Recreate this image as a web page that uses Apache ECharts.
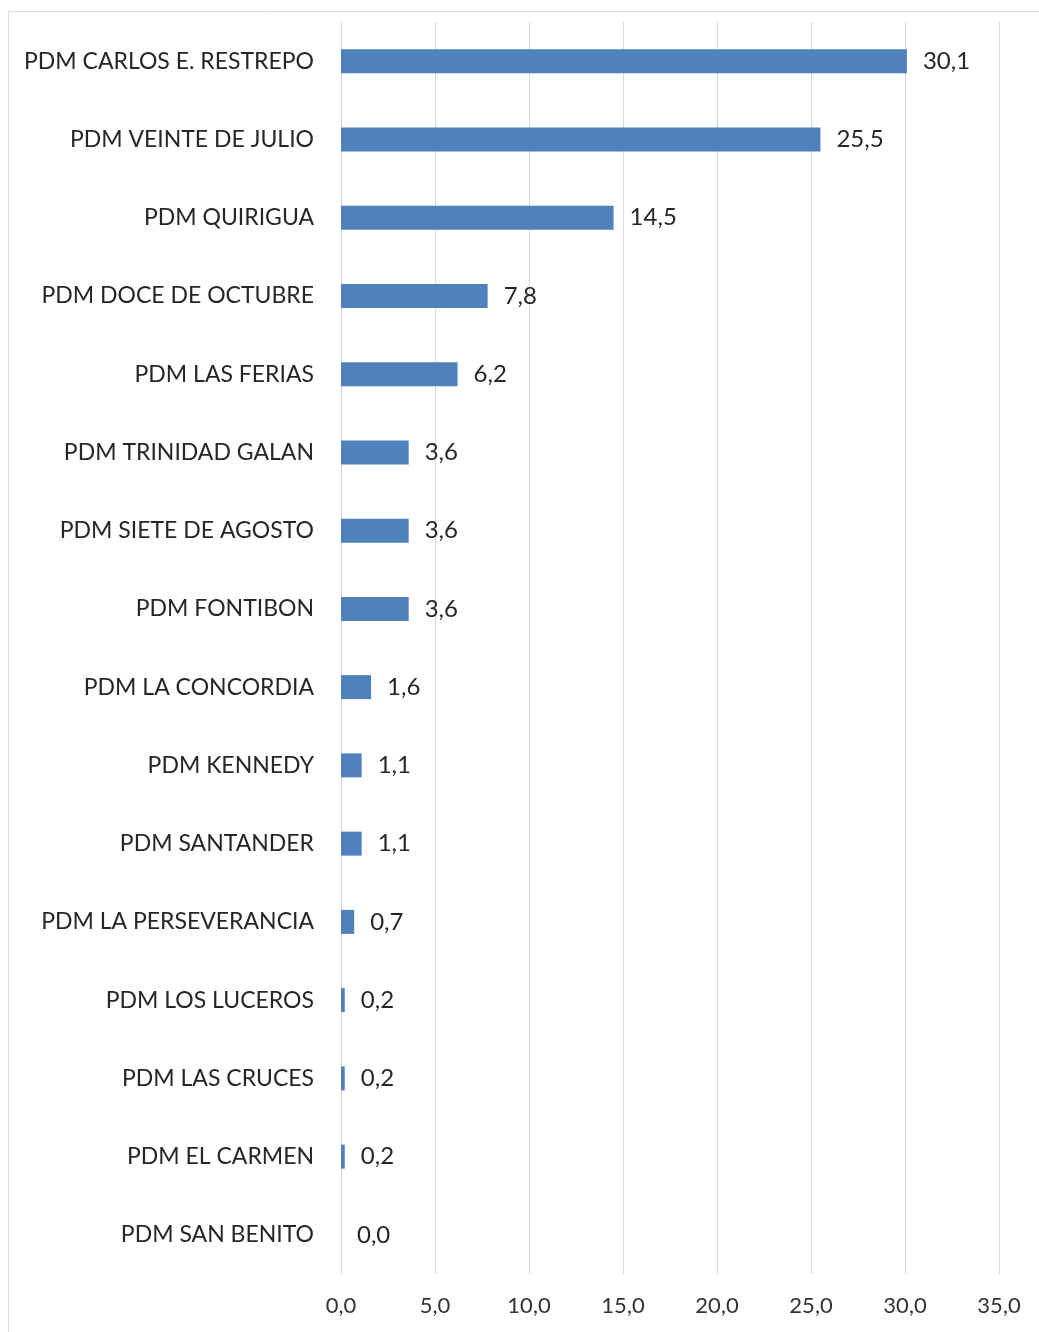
<!DOCTYPE html>
<html>
<head>
<meta charset="utf-8">
<script src="https://cdn.jsdelivr.net/npm/echarts@6/dist/echarts.min.js"></script>
<style>
    html, body { margin: 0; padding: 0; background: #fff; }
    #charts { width: 1039px; height: 1332px; }
</style>
</head>
<body>
<div id="charts"></div>
<script>
    var categories = ['PDM CARLOS E. RESTREPO', 'PDM VEINTE DE JULIO', 'PDM QUIRIGUA', 'PDM DOCE DE OCTUBRE',
        'PDM LAS FERIAS', 'PDM TRINIDAD GALAN', 'PDM SIETE DE AGOSTO', 'PDM FONTIBON', 'PDM LA CONCORDIA',
        'PDM KENNEDY', 'PDM SANTANDER', 'PDM LA PERSEVERANCIA', 'PDM LOS LUCEROS', 'PDM LAS CRUCES',
        'PDM EL CARMEN', 'PDM SAN BENITO'];
    var values = [30.1, 25.5, 14.5, 7.8, 6.2, 3.6, 3.6, 3.6, 1.6, 1.1, 1.1, 0.7, 0.2, 0.2, 0.2, 0.0];
    var axisTicks = [0, 35, 5];   // min, max, interval

    function fmt(v) {
        return Number(v).toFixed(1).replace('.', ',');
    }

    var textFont = 'Lato';
    var myCharts = echarts.init(document.getElementById('charts'));
    myCharts.setOption({
        animation: false,
        grid: { left: 341, right: 40, top: 22, bottom: 58, containLabel: false },
        graphic: [{
            type: 'rect',
            shape: { x: 8.5, y: 11.5, width: 1100, height: 1400 },
            style: { fill: 'none', stroke: '#dcdce8', lineWidth: 1 },
            silent: true
        }],
        xAxis: {
            type: 'value',
            min: axisTicks[0],
            max: axisTicks[1],
            interval: axisTicks[2],
            axisLine: { show: false },
            axisTick: { show: false },
            splitLine: { show: true, lineStyle: { color: '#d9d9d9', width: 1 } },
            axisLabel: {
                formatter: fmt,
                color: '#333333',
                fontFamily: textFont,
                fontSize: 22,
                margin: 21
            }
        },
        yAxis: {
            type: 'category',
            inverse: true,
            data: categories,
            axisLine: { show: false },
            axisTick: { show: false },
            splitLine: { show: false },
            axisLabel: {
                color: '#262626',
                fontFamily: textFont,
                fontSize: 23,
                margin: 27
            }
        },
        series: [{
            type: 'bar',
            data: values,
            barWidth: 24,
            itemStyle: { color: '#4f81bd' },
            label: {
                show: true,
                position: 'right',
                distance: 16,
                formatter: function (p) { return fmt(p.value); },
                color: '#262626',
                fontFamily: textFont,
                fontSize: 24
            }
        }]
    });
</script>
</body>
</html>
